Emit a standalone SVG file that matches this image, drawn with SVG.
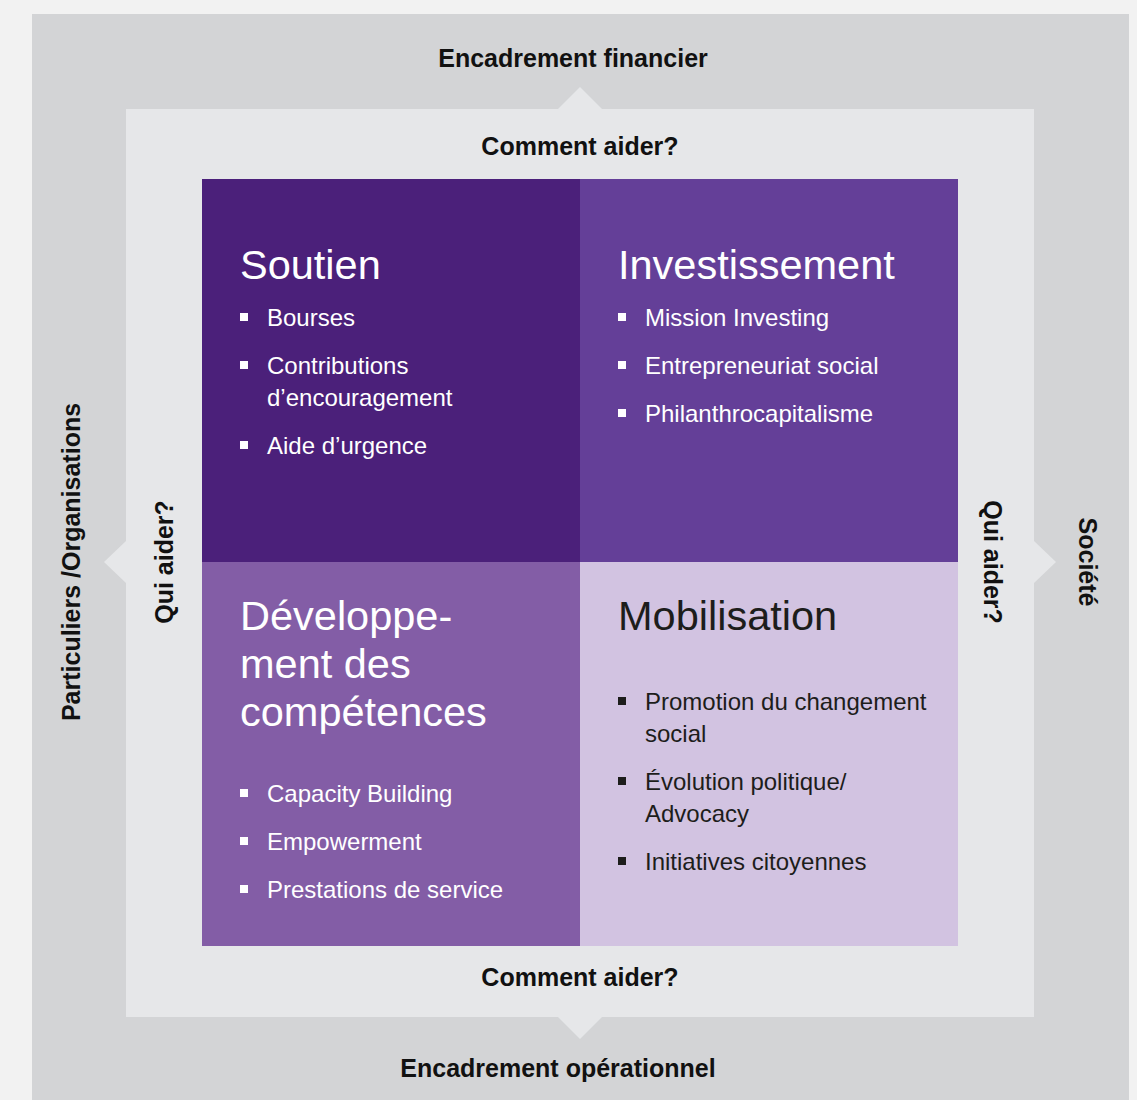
<svg xmlns="http://www.w3.org/2000/svg" width="1137" height="1100" viewBox="0 0 1137 1100">
  <style>
    .lbl { font-family: "Liberation Sans", Arial, sans-serif; font-weight: bold; font-size: 25px; fill: #111111; text-anchor: middle; }
    .head { font-family: "Liberation Sans", Arial, sans-serif; font-size: 41.5px; }
    .item { font-family: "Liberation Sans", Arial, sans-serif; font-size: 24px; }
    .light { fill: #ffffff; }
    .dark { fill: #1d1d1b; }
  </style>
  <defs>
    <rect id="bullet" width="8" height="8"/>
  </defs>

  <!-- page background -->
  <rect x="0" y="0" width="1137" height="1100" fill="#f2f2f2"/>

  <!-- outer frame -->
  <g id="outer-frame">
    <rect x="32" y="14" width="1097" height="1086" fill="#d3d4d6"/>
  </g>

  <!-- inner frame with pointers on each side -->
  <g id="inner-frame" fill="#e6e7e9">
    <rect x="126" y="109" width="908" height="908"/>
    <polygon points="558,109 580,87 602,109"/>
    <polygon points="558,1017 580,1039 602,1017"/>
    <polygon points="126,541 104,562 126,583"/>
    <polygon points="1034,541 1056,562 1034,583"/>
  </g>

  <!-- outer labels -->
  <g id="label-financier"><text class="lbl" x="573" y="67">Encadrement financier</text></g>
  <g id="label-operationnel"><text class="lbl" x="558" y="1077">Encadrement opérationnel</text></g>
  <g id="label-particuliers"><text class="lbl" transform="translate(80,562) rotate(-90)">Particuliers /Organisations</text></g>
  <g id="label-societe"><text class="lbl" transform="translate(1079,562) rotate(90)">Société</text></g>

  <!-- inner labels -->
  <g id="label-comment-top"><text class="lbl" x="580" y="155">Comment aider?</text></g>
  <g id="label-comment-bottom"><text class="lbl" x="580" y="986">Comment aider?</text></g>
  <g id="label-qui-left"><text class="lbl" transform="translate(173,562) rotate(-90)">Qui aider?</text></g>
  <g id="label-qui-right"><text class="lbl" transform="translate(984,562) rotate(90)">Qui aider?</text></g>

  <!-- quadrant: Soutien -->
  <g id="soutien">
    <rect x="202" y="179" width="378" height="383" fill="#4b207a"/>
    <text class="head light" x="240" y="279">Soutien</text>
    <g class="light">
      <use href="#bullet" x="240" y="313"/>
      <use href="#bullet" x="240" y="361"/>
      <use href="#bullet" x="240" y="441"/>
    </g>
    <text class="item light" x="267" y="326">Bourses</text>
    <text class="item light" x="267" y="374">Contributions</text>
    <text class="item light" x="267" y="406">d’encouragement</text>
    <text class="item light" x="267" y="454">Aide d’urgence</text>
  </g>

  <!-- quadrant: Investissement -->
  <g id="investissement">
    <rect x="580" y="179" width="378" height="383" fill="#643f98"/>
    <text class="head light" x="618" y="279">Investissement</text>
    <g class="light">
      <use href="#bullet" x="618" y="313"/>
      <use href="#bullet" x="618" y="361"/>
      <use href="#bullet" x="618" y="409"/>
    </g>
    <text class="item light" x="645" y="326">Mission Investing</text>
    <text class="item light" x="645" y="374">Entrepreneuriat social</text>
    <text class="item light" x="645" y="422">Philanthrocapitalisme</text>
  </g>

  <!-- quadrant: Développement des compétences -->
  <g id="developpement">
    <rect x="202" y="562" width="378" height="384" fill="#835da6"/>
    <text class="head light" x="240" y="630">Développe-</text>
    <text class="head light" x="240" y="678">ment des</text>
    <text class="head light" x="240" y="726">compétences</text>
    <g class="light">
      <use href="#bullet" x="240" y="789"/>
      <use href="#bullet" x="240" y="837"/>
      <use href="#bullet" x="240" y="885"/>
    </g>
    <text class="item light" x="267" y="802">Capacity Building</text>
    <text class="item light" x="267" y="850">Empowerment</text>
    <text class="item light" x="267" y="898">Prestations de service</text>
  </g>

  <!-- quadrant: Mobilisation -->
  <g id="mobilisation">
    <rect x="580" y="562" width="378" height="384" fill="#d2c3e1"/>
    <text class="head dark" x="618" y="630">Mobilisation</text>
    <g class="dark">
      <use href="#bullet" x="618" y="697"/>
      <use href="#bullet" x="618" y="777"/>
      <use href="#bullet" x="618" y="857"/>
    </g>
    <text class="item dark" x="645" y="710">Promotion du changement</text>
    <text class="item dark" x="645" y="742">social</text>
    <text class="item dark" x="645" y="790">Évolution politique/</text>
    <text class="item dark" x="645" y="822">Advocacy</text>
    <text class="item dark" x="645" y="870">Initiatives citoyennes</text>
  </g>

  <!-- no connectors between nodes; pointers are part of the inner frame -->
  <g id="connectors"/>
</svg>
